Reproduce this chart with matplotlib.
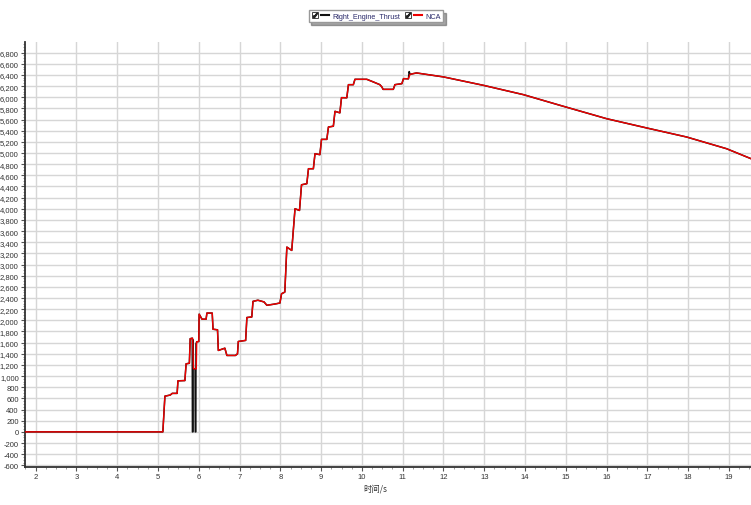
import matplotlib
matplotlib.use("Agg")
import matplotlib.pyplot as plt
from matplotlib.lines import Line2D
from matplotlib.legend_handler import HandlerTuple
from matplotlib.ticker import MultipleLocator, FuncFormatter

plt.rcParams['font.family'] = ['Liberation Sans', 'DejaVu Sans', 'Noto Sans CJK SC']

# ---- data ----
nca_t = [1.74, 5.12, 5.17, 5.30, 5.35, 5.47, 5.49, 5.66, 5.69, 5.77, 5.79, 5.85,
         5.87, 5.94, 5.95, 6.00, 6.01, 6.08, 6.18, 6.20, 6.33, 6.35, 6.46, 6.48,
         6.60, 6.64, 6.69, 6.90, 6.95, 6.97, 7.15, 7.18, 7.30, 7.33, 7.45, 7.60,
         7.67, 7.85, 7.99, 8.03, 8.11, 8.16, 8.28, 8.36, 8.47, 8.52, 8.65, 8.69,
         8.81, 8.85, 8.97, 9.01, 9.14, 9.18, 9.30, 9.34, 9.46, 9.50, 9.63, 9.67,
         9.79, 9.83, 10.12, 10.28, 10.44, 10.49, 10.52, 10.77, 10.81, 10.98,
         11.02, 11.14, 11.18, 11.26, 11.34, 12.00, 12.98, 13.96, 14.86, 16.00,
         16.98, 17.96, 18.94, 19.54]
nca_v = [0, 0, 640, 660, 690, 690, 915, 920, 1220, 1230, 1670, 1680,
         1130, 1130, 1615, 1620, 2110, 2020, 2020, 2130, 2130, 1840, 1830, 1460,
         1490, 1500, 1370, 1370, 1400, 1620, 1640, 2050, 2060, 2340, 2360, 2330,
         2270, 2290, 2310, 2476, 2506, 3313, 3253, 4000, 3970, 4430, 4450, 4718,
         4718, 4987, 4970, 5244, 5244, 5466, 5480, 5747, 5720, 5992, 5990, 6225,
         6225, 6321, 6321, 6274, 6225, 6184, 6141, 6141, 6225, 6243,
         6333, 6330, 6410, 6423, 6435, 6364, 6213, 6046, 5854, 5615,
         5449, 5287, 5077, 4898]

thrust_t = [1.74, 5.12, 5.17, 5.30, 5.35, 5.47, 5.49, 5.66, 5.69, 5.77, 5.79, 5.84,
            5.845, 5.858, 5.862, 5.87, 5.91, 5.915, 5.928, 5.932, 5.95, 6.00, 6.01,
            6.08, 6.18, 6.20, 6.33, 6.35, 6.46, 6.48, 6.60, 6.64, 6.69, 6.90, 6.95,
            6.97, 7.15, 7.18, 7.30, 7.33, 7.45, 7.60, 7.67, 7.85, 7.99, 8.03, 8.11,
            8.16, 8.28, 8.36, 8.47, 8.52, 8.65, 8.69, 8.81, 8.85, 8.97, 9.01, 9.14,
            9.18, 9.30, 9.34, 9.46, 9.50, 9.63, 9.67, 9.79, 9.83, 10.12, 10.28,
            10.44, 10.49, 10.52, 10.77, 10.81, 10.98, 11.02, 11.14, 11.16, 11.18,
            11.26, 11.34, 12.00, 12.98, 13.96, 14.86, 16.00, 16.98, 17.96, 18.94,
            19.54]
thrust_v = [0, 0, 640, 660, 690, 690, 915, 920, 1220, 1230, 1670, 1680,
            0, 0, 1650, 1130, 1130, 0, 0, 1580, 1615, 1620, 2110,
            2020, 2020, 2130, 2130, 1840, 1830, 1460, 1490, 1500, 1370, 1370, 1400,
            1620, 1640, 2050, 2060, 2340, 2360, 2330, 2270, 2290, 2310, 2476, 2506,
            3313, 3253, 4000, 3970, 4430, 4450, 4718, 4718, 4987, 4970, 5244, 5244,
            5466, 5480, 5747, 5720, 5992, 5990, 6225, 6225, 6321, 6321, 6274,
            6225, 6184, 6141, 6141, 6225, 6243, 6333, 6330, 6460, 6410,
            6423, 6435, 6364, 6213, 6046, 5854, 5615, 5449, 5287, 5077,
            4898]

series_names = ["Right_Engine_Thrust", "NCA"]
x_label = "时间/s"

# ---- figure ----
fig = plt.figure(figsize=(7.51, 5.06), dpi=100)
ax = fig.add_axes([25 / 751, 1 - 468 / 506, 1 - 25 / 751, (468 - 43) / 506])

ax.plot(thrust_t, thrust_v, color='#111111', lw=1.1, zorder=3)
ax.plot(nca_t, nca_v, color='#ee0000', lw=1.0, zorder=4)

ax.set_xlim(1.74, 19.54)
ax.set_ylim(-630, 6990)
ax.xaxis.set_major_locator(MultipleLocator(1))
ax.xaxis.set_minor_locator(MultipleLocator(0.25))
ax.yaxis.set_major_locator(MultipleLocator(200))
ax.yaxis.set_minor_locator(MultipleLocator(50))
ax.yaxis.set_major_formatter(FuncFormatter(lambda v, p: f"{int(round(v)):,}"))

ax.grid(True, which='major', color='#d6d6d6', lw=1.0, zorder=0)
for s in ['top', 'right']:
    ax.spines[s].set_visible(False)
for s in ['left', 'bottom']:
    ax.spines[s].set_color('#333333')
    ax.spines[s].set_linewidth(1.3)

ax.tick_params(which='major', length=3, width=0.8, colors='#555555',
               labelsize=5.5, labelcolor='#333333', pad=1.5)
ax.tick_params(which='minor', length=1.5, width=0.6, colors='#888888')

ax.set_xlabel(x_label, fontsize=6, color='#333333',
              family=['Noto Sans CJK SC', 'DejaVu Sans'])
ax.xaxis.set_label_coords((375 - 25) / 726, -0.038)


# ---- legend ----
class Box(tuple):
    pass


def make_cb():
    sq = Line2D([], [], marker='s', mfc='white', mec='#444444', mew=0.7,
                ls='none', markersize=4.5)
    ck = Line2D([], [], marker='$\u2713$', color='#222222', ls='none', markersize=3.2)
    return Box((sq, ck))


ln1 = Line2D([], [], color='#111111', lw=1.5)
ln2 = Line2D([], [], color='#ee0000', lw=1.5)
leg = fig.legend([(make_cb(), ln1), (make_cb(), ln2)], series_names,
                 handler_map={Box: HandlerTuple(ndivide=1),
                              tuple: HandlerTuple(ndivide=None, pad=0.2)},
                 loc='center', bbox_to_anchor=(376 / 751, 1 - 17 / 506),
                 ncol=2, fontsize=5.2, frameon=True, fancybox=False, shadow=True,
                 edgecolor='#999999', handlelength=2.4, handletextpad=0.5,
                 columnspacing=0.6, borderpad=0.35)
for t in leg.get_texts():
    t.set_color('#2a2a6a')

fig.savefig("out.png", dpi=100)
